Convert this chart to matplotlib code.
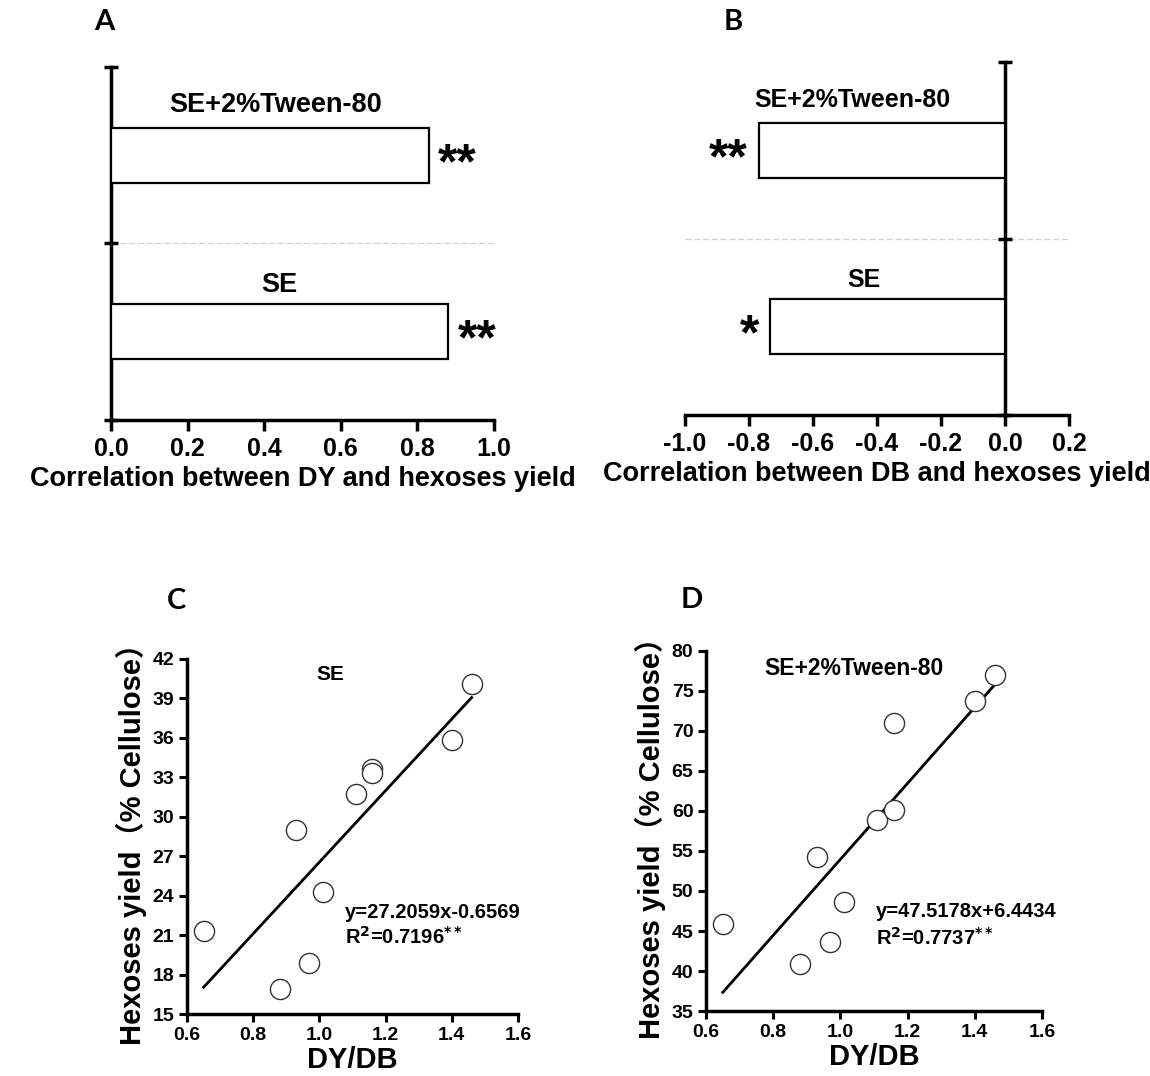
import matplotlib
matplotlib.use("Agg")
import matplotlib.pyplot as plt

plt.rcParams['font.family'] = ['Liberation Sans', 'Noto Sans CJK SC', 'DejaVu Sans']
plt.rcParams['font.weight'] = 'bold'
plt.rcParams['axes.labelweight'] = 'bold'

# correlation bars (A, B)
groups = ["SE", "SE+2%Tween-80"]
stars_dy = ["**", "**"]
corr_dy = [0.88, 0.83]
stars_db = ["*", "**"]
corr_db = [-0.734, -0.77]

# scatter data (C, D)
dy_db = [0.65, 0.88, 0.93, 0.97, 1.01, 1.11, 1.16, 1.16, 1.40, 1.46]
hex_se = [21.3, 16.9, 29.0, 18.9, 24.3, 31.7, 33.6, 33.3, 35.8, 40.1]
hex_tw = [45.9, 40.9, 54.2, 43.6, 48.6, 58.9, 71.0, 60.1, 73.8, 77.0]
fit_se = (27.2059, -0.6569)
fit_tw = (47.5178, 6.4434)

fig = plt.figure(figsize=(11.5, 10.76), dpi=100)


def bar_panel(ax, vals, stars, xlim, xticks, xlabel, lab_x, gsize):
    ypos = [0.5, 1.5]
    ax.barh(ypos, vals, height=0.31, color='white', edgecolor='black', linewidth=1.6, zorder=3)
    ax.axhline(1, color='#d0d0d0', lw=0.9, ls=(0, (5, 2)), zorder=1)
    for y, v, s in zip(ypos, vals, stars):
        if v > 0:
            ax.text(v + 0.025, y - 0.055, s, ha='left', va='center', fontsize=36)
        else:
            ax.text(v - 0.035, y - 0.055, s, ha='right', va='center', fontsize=36)
    ax.text(lab_x[0], 0.765, groups[0], ha='center', va='center', fontsize=gsize)
    ax.text(lab_x[1], 1.785, groups[1], ha='center', va='center', fontsize=gsize)
    ax.set_xlim(*xlim)
    ax.set_ylim(0, 2)
    ax.set_xticks(xticks)
    ax.set_xticklabels(["%.1f" % t for t in xticks])
    ax.set_yticks([0, 1, 2])
    ax.set_yticklabels([])
    for s in ['top', 'right']:
        ax.spines[s].set_visible(False)
    ax.spines['left'].set_position(('data', 0))
    ax.spines['left'].set_linewidth(2.5)
    ax.spines['bottom'].set_linewidth(2.5)
    ax.tick_params(axis='x', direction='out', length=8, width=2.5, labelsize=18, pad=4)
    ax.tick_params(axis='y', direction='inout', length=10, width=2.5)
    ax.set_xlabel(xlabel, fontsize=19.5, labelpad=4)


axA = fig.add_axes([0.0965, 0.6097, 0.333, 0.328])
bar_panel(axA, corr_dy, stars_dy, (0, 1.0), [0.0, 0.2, 0.4, 0.6, 0.8, 1.0],
          "Correlation between DY and hexoses yield", [0.44, 0.43], 19.5)

axB = fig.add_axes([0.5957, 0.6143, 0.3339, 0.328])
bar_panel(axB, corr_db, stars_db, (-1.0, 0.2), [-1.0, -0.8, -0.6, -0.4, -0.2, 0.0, 0.2],
          "Correlation between DB and hexoses yield", [-0.44, -0.478], 18)


def scatter_panel(ax, yvals, fit, r2, ylim, yticks, title, tx, ty, ex, ey1, ey2, tsize):
    ax.scatter(dy_db, yvals, s=210, facecolor='white', edgecolor='#333333', linewidths=1.0, zorder=3)
    x0, x1 = min(dy_db), max(dy_db)
    ax.plot([x0, x1], [fit[0] * x0 + fit[1], fit[0] * x1 + fit[1]], color='black', lw=2, zorder=2)
    ax.text(tx, ty, title, fontsize=tsize, ha='left', va='center')
    sign = '+' if fit[1] >= 0 else '-'
    ax.text(ex, ey1, "y=%.4fx%s%.4f" % (fit[0], sign, abs(fit[1])), fontsize=14.5, ha='left', va='center')
    ax.text(ex, ey2, r"R$^{\mathbf{2}}$=" + r2 + r"$^{\mathbf{**}}$", fontsize=14.5, ha='left', va='center')
    ax.set_xlim(0.6, 1.6)
    ax.set_ylim(*ylim)
    ax.set_xticks([0.6, 0.8, 1.0, 1.2, 1.4, 1.6])
    ax.set_yticks(yticks)
    for s in ['top', 'right']:
        ax.spines[s].set_visible(False)
    ax.spines['left'].set_linewidth(2.5)
    ax.spines['bottom'].set_linewidth(2.5)
    ax.tick_params(direction='out', length=6, width=2.2, labelsize=14, pad=3)
    ax.set_xlabel("DY/DB", fontsize=21, labelpad=2)
    ax.set_ylabel("Hexoses yield（% Cellulose）", fontsize=21, labelpad=4)


axC = fig.add_axes([0.1626, 0.0576, 0.2878, 0.33])
scatter_panel(axC, hex_se, fit_se, "0.7196", (15, 42), list(range(15, 43, 3)), "SE",
              0.99, 40.8, 1.078, 22.7, 20.9, 15)

axD = fig.add_axes([0.6139, 0.0604, 0.2922, 0.3346])
scatter_panel(axD, hex_tw, fit_tw, "0.7737", (35, 80), list(range(35, 81, 5)), "SE+2%Tween-80",
              0.774, 77.8, 1.107, 47.4, 44.1, 16.5)

for lab, px, py in [("A", 104, 22), ("B", 733, 22), ("C", 176, 601), ("D", 692, 600)]:
    fig.text(px / 1150, 1 - py / 1076, lab, fontsize=21, fontweight='bold',
             family=['Lato', 'DejaVu Sans'], ha='center', va='center')

fig.savefig("out.png", dpi=100)
